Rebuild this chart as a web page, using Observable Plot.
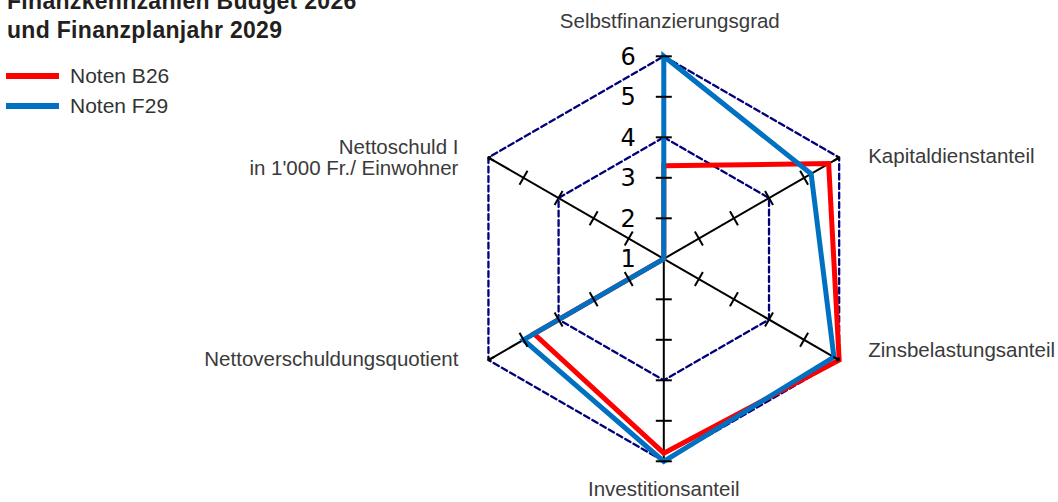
<!DOCTYPE html>
<html><head><meta charset="utf-8">
<script src="https://cdn.jsdelivr.net/npm/d3@7"></script>
<script src="https://cdn.jsdelivr.net/npm/@observablehq/plot@0.6"></script>
<style>
body{margin:0;background:#fff;}
#wrap{position:relative;width:1058px;height:502px;overflow:hidden;}
#title{position:absolute;left:7px;top:-13px;font-family:"Liberation Sans",Arial,sans-serif;font-weight:bold;font-size:23px;line-height:28.5px;color:#231f20;letter-spacing:0.3px;white-space:nowrap;}
.sw{position:absolute;left:6px;width:53px;height:6px;}
.lt{position:absolute;left:70px;font-family:"Liberation Sans",Arial,sans-serif;font-size:21px;line-height:21px;color:#333;white-space:nowrap;}
</style></head><body>
<div id="wrap"><div id="chart"></div><div id="title"></div><div id="legend"></div></div>
<script>
const titleLines = ["Finanzkennzahlen Budget 2026", "und Finanzplanjahr 2029"];
const axes = ["Selbstfinanzierungsgrad", "Kapitaldienstanteil", "Zinsbelastungsanteil", "Investitionsanteil", "Nettoverschuldungsquotient", "Nettoschuld I\nin 1'000 Fr./ Einwohner"];
const seriesNames = ["Noten B26", "Noten F29"];
const notenB26 = [3.3, 5.7, 6, 5.8, 4.7, 1];
const notenF29 = [6, 5.2, 5.85, 6, 5, 1];
const tickValues = [1, 2, 3, 4, 5, 6];
const gridLevels = [4, 6];

const seriesColors = ["#ff0000", "#0070c0"];
const U = 40.5;            // px per value unit
const cx = 663.3, cy = 258.3;
const W = 1058, H = 502;
const vmin = 1, vmax = 6;

const ang = i => Math.PI / 2 - i * Math.PI / 3;
const pt = (i, v) => ({x: (v - vmin) * Math.cos(ang(i)), y: (v - vmin) * Math.sin(ang(i))});

// title & legend
document.getElementById("title").innerHTML = titleLines.join("<br>");
const leg = document.getElementById("legend");
seriesNames.forEach((n, k) => {
  const s = document.createElement("div"); s.className = "sw";
  s.style.top = (73 + 30 * k) + "px"; s.style.background = seriesColors[k]; leg.appendChild(s);
  const t = document.createElement("div"); t.className = "lt";
  t.style.top = (65 + 29.5 * k) + "px"; t.textContent = n; leg.appendChild(t);
});

const hex = gridLevels.flatMap(l => axes.map((_, i) => ({level: l, ...pt(i, l)})));
const series = [notenB26, notenF29].flatMap((vals, k) => vals.map((v, i) => ({series: seriesNames[k], ...pt(i, v)})));
const axisLines = axes.map((_, i) => ({i, x1: 0, y1: 0, x2: pt(i, vmax).x, y2: pt(i, vmax).y}));
const arrowAxes = axisLines.filter(d => d.i % 3 !== 0);
const heads = arrowAxes.map(d => ({x1: pt(d.i, vmax - 0.15).x, y1: pt(d.i, vmax - 0.15).y, x2: d.x2, y2: d.y2}));
const h = 8 / U;
const ticks = axes.flatMap((_, i) => tickValues.filter(v => v > vmin && (v < vmax || i % 3 === 0)).map(v => {
  const p = pt(i, v), a = ang(i);
  const nx = -Math.sin(a) * h, ny = Math.cos(a) * h;
  return {x1: p.x - nx, y1: p.y - ny, x2: p.x + nx, y2: p.y + ny};
}));
const tickLabels = tickValues.map(v => ({v, ...pt(0, v)}));

const labelOpts = [
  {textAnchor: "middle", dx: 6, dy: -35},
  {textAnchor: "start", dx: 29, dy: -1},
  {textAnchor: "start", dx: 29, dy: -10},
  {textAnchor: "middle", dx: 0, dy: 28},
  {textAnchor: "end", dx: -30, dy: -1},
  {textAnchor: "end", dx: -30, dy: 0}
];

const chart = Plot.plot({
  width: W, height: H,
  marginTop: 0, marginRight: 0, marginBottom: 0, marginLeft: 0,
  x: {domain: [-cx / U, (W - cx) / U], axis: null},
  y: {domain: [-(H - cy) / U, cy / U], axis: null},
  color: {domain: seriesNames, range: seriesColors},
  style: {background: "white", overflow: "visible"},
  marks: [
    Plot.link(axisLines, {x1: "x1", y1: "y1", x2: "x2", y2: "y2", stroke: "black", strokeWidth: 2}),
    Plot.line(hex, {x: "x", y: "y", z: "level", curve: "linear-closed", stroke: "#00007a", strokeWidth: 2.3, strokeDasharray: "6,3.5"}),
    Plot.line(series, {x: "x", y: "y", z: "series", stroke: "series", curve: "linear-closed", strokeWidth: 5, strokeLinejoin: "miter", strokeMiterlimit: 10}),
    Plot.link(ticks, {x1: "x1", y1: "y1", x2: "x2", y2: "y2", stroke: "black", strokeWidth: 2}),
    Plot.arrow(heads, {x1: "x1", y1: "y1", x2: "x2", y2: "y2", stroke: "black", strokeWidth: 2, headLength: 10, headAngle: 90}),
    Plot.text(tickLabels, {x: "x", y: "y", text: d => String(d.v), textAnchor: "end", dx: -28, dy: 1, fontSize: 24, fontFamily: "DejaVu Sans", fill: "black"}),
    ...axes.map((label, i) => Plot.text([pt(i, vmax)], {x: "x", y: "y", text: () => label, ...labelOpts[i], lineHeight: 1.05, fontSize: 20.5, fontFamily: "Liberation Sans, Arial, sans-serif", fill: "#3a3a3a"}))
  ]
});
document.getElementById("chart").appendChild(chart);
</script>
</body></html>
